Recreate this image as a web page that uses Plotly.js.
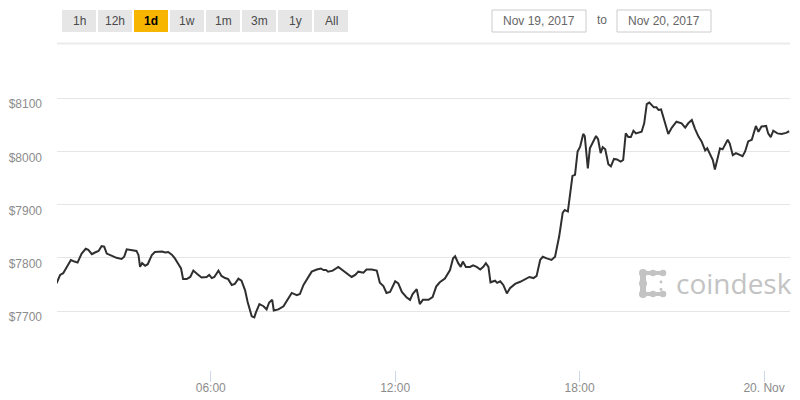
<!DOCTYPE html>
<html>
<head>
<meta charset="utf-8">
<script src="https://cdn.plot.ly/plotly-3.0.1.min.js"></script>
<style>
  html, body { margin: 0; padding: 0; background: #fff; }
  #chart { width: 800px; height: 400px; }
</style>
</head>
<body>
<div id="chart"></div>
<script>
// minutes after 2017-11-19 00:00 and BTC price (USD)
var minutes = [59, 66, 72, 79, 87, 94, 100, 108, 116, 121, 128, 134, 141, 147, 152, 157, 167, 176, 186, 191,
  196, 202, 209, 215, 219, 222, 226, 232, 237, 245, 251, 258, 265, 271, 277, 284, 290, 297, 302, 306,
  313, 320, 326, 333, 342, 352, 357, 362, 367, 375, 381, 388, 394, 401, 407, 414, 420, 427, 432, 440,
  445, 448, 455, 463, 469, 474, 480, 483, 492, 502, 509, 518, 528, 534, 541, 547, 557, 567, 575, 580,
  585, 589, 598, 609, 619, 628, 635, 642, 648, 658, 664, 674, 684, 690, 697, 703, 710, 720, 726, 733,
  742, 749, 754, 762, 768, 774, 785, 793, 800, 807, 817, 827, 833, 837, 843, 848, 852, 858, 866, 872,
  879, 886, 892, 897, 902, 906, 915, 919, 925, 931, 938, 944, 954, 964, 973, 982, 990, 996, 1003, 1008,
  1016, 1025, 1032, 1040, 1047, 1051, 1057, 1061, 1066, 1071, 1076, 1081, 1087, 1090, 1096, 1100, 1107, 1112, 1116, 1121,
  1125, 1130, 1136, 1141, 1147, 1153, 1160, 1165, 1170, 1175, 1180, 1185, 1190, 1196, 1201, 1206, 1211, 1216, 1221, 1225,
  1230, 1234, 1239, 1247, 1253, 1260, 1269, 1279, 1286, 1292, 1299, 1305, 1312, 1318, 1325, 1329, 1334, 1340, 1344, 1349,
  1354, 1359, 1364, 1369, 1373, 1379, 1385, 1393, 1398, 1403, 1409, 1416, 1424, 1429, 1435, 1444, 1448, 1453, 1458, 1466,
  1474, 1483, 1489];
var prices = [7752, 7768, 7771, 7783, 7796, 7793, 7791, 7808, 7817, 7815, 7807, 7810, 7813, 7822, 7821, 7808, 7803, 7800, 7798, 7802,
  7816, 7815, 7815, 7813, 7805, 7783, 7790, 7785, 7788, 7805, 7811, 7812, 7812, 7810, 7811, 7806, 7799, 7788, 7780, 7760,
  7760, 7764, 7776, 7770, 7763, 7764, 7768, 7762, 7764, 7776, 7766, 7762, 7760, 7749, 7751, 7761, 7757, 7739, 7717, 7690,
  7688, 7697, 7713, 7709, 7703, 7716, 7721, 7701, 7703, 7709, 7721, 7734, 7730, 7732, 7749, 7758, 7774, 7778, 7780, 7777,
  7777, 7774, 7776, 7783, 7776, 7768, 7764, 7768, 7774, 7772, 7778, 7778, 7776, 7753, 7747, 7734, 7736, 7756, 7752, 7736,
  7726, 7721, 7732, 7741, 7713, 7721, 7721, 7726, 7746, 7754, 7761, 7777, 7799, 7803, 7790, 7783, 7793, 7783, 7783, 7786,
  7783, 7778, 7783, 7790, 7783, 7754, 7757, 7753, 7756, 7749, 7733, 7743, 7751, 7755, 7760, 7764, 7762, 7766, 7796, 7802,
  7799, 7796, 7802, 7840, 7885, 7890, 7887, 7921, 7954, 7956, 8000, 8009, 8033, 8029, 7968, 8006, 8020, 8029, 8023, 7997,
  8008, 8004, 7976, 7972, 7986, 7985, 7981, 7984, 8034, 8027, 8027, 8039, 8034, 8035, 8037, 8053, 8089, 8092, 8087, 8083,
  8083, 8078, 8079, 8050, 8033, 8045, 8056, 8053, 8045, 8053, 8059, 8043, 8028, 8019, 8002, 8006, 7997, 7984, 7966, 7984,
  8006, 8004, 8012, 8022, 8015, 7993, 7997, 7993, 7991, 8000, 8019, 8022, 8048, 8037, 8047, 8048, 8034, 8027, 8039, 8034,
  8033, 8035, 8038];

var tickMinutes = [360, 720, 1080, 1440];
var tickLabels = ['06:00', '12:00', '18:00', '20. Nov'];
var priceTicks = [7700, 7800, 7900, 8000, 8100];
var rangeButtons = ['1h', '12h', '1d', '1w', '1m', '3m', '1y', 'All'];
var activeButton = '1d';
var dateFrom = 'Nov 19, 2017';
var dateTo = 'Nov 20, 2017';

function toDate(m) {
  var d = new Date(Date.UTC(2017, 10, 19) + m * 60000);
  return d.toISOString().slice(0, 19).replace('T', ' ');
}

// plot box in pixels, used to place the decorations around it
var L = 57, R = 790, T = 60, B = 370;
function px(x) { return (x - L) / (R - L); }
function py(y) { return (B - y) / (B - T); }

var shapes = [];
var annotations = [];

// range buttons
rangeButtons.forEach(function (b, i) {
  var x0 = 62 + i * 36;
  shapes.push({
    type: 'rect', xref: 'paper', yref: 'paper',
    x0: px(x0), x1: px(x0 + 34), y0: py(32), y1: py(10),
    fillcolor: b === activeButton ? '#f7b500' : '#e6e6e6',
    line: { width: 0 }
  });
  annotations.push({
    xref: 'paper', yref: 'paper', x: px(x0 + 17), y: py(21),
    xanchor: 'center', yanchor: 'middle', showarrow: false,
    text: b === activeButton ? '<b>' + b + '</b>' : b,
    font: { size: 12, color: b === activeButton ? '#000' : '#4a4a4a' }
  });
});

// date boxes
[[492, 586, dateFrom], [617, 711, dateTo]].forEach(function (d) {
  shapes.push({
    type: 'rect', xref: 'paper', yref: 'paper',
    x0: px(d[0]), x1: px(d[1]), y0: py(32), y1: py(10),
    fillcolor: '#fff', line: { width: 1, color: '#cccccc' }
  });
  annotations.push({
    xref: 'paper', yref: 'paper', x: px((d[0] + d[1]) / 2), y: py(21),
    xanchor: 'center', yanchor: 'middle', showarrow: false,
    text: d[2], font: { size: 12, color: '#666' }
  });
});
annotations.push({
  xref: 'paper', yref: 'paper', x: px(602), y: py(20),
  xanchor: 'center', yanchor: 'middle', showarrow: false,
  text: 'to', font: { size: 12, color: '#666' }
});

// divider under the controls
shapes.push({
  type: 'line', xref: 'paper', yref: 'paper',
  x0: px(57), x1: px(790), y0: py(43.5), y1: py(43.5),
  line: { width: 2, color: '#ebebeb' }
});

// coindesk logo
var logoGray = '#c3c3c3';
[[643, 273, 4], [653, 273, 3.3], [663, 273, 3.3], [643, 283.5, 4], [643, 294, 4], [653, 294, 3.3], [663, 294, 3.3],
 [661, 282, 1.4], [661, 289.5, 1.4]].forEach(function (c) {
  shapes.push({
    type: 'circle', xref: 'paper', yref: 'paper',
    x0: px(c[0] - c[2]), x1: px(c[0] + c[2]), y0: py(c[1] + c[2]), y1: py(c[1] - c[2]),
    fillcolor: logoGray, line: { width: 0 }
  });
});
shapes.push({
  type: 'rect', xref: 'paper', yref: 'paper',
  x0: px(640), x1: px(646), y0: py(294), y1: py(273),
  fillcolor: logoGray, line: { width: 0 }
});
shapes.push({
  type: 'rect', xref: 'paper', yref: 'paper',
  x0: px(643), x1: px(663), y0: py(275), y1: py(271),
  fillcolor: logoGray, line: { width: 0 }
});
shapes.push({
  type: 'rect', xref: 'paper', yref: 'paper',
  x0: px(643), x1: px(663), y0: py(296), y1: py(292),
  fillcolor: logoGray, line: { width: 0 }
});
annotations.push({
  xref: 'paper', yref: 'paper', x: px(674), y: py(283),
  xanchor: 'left', yanchor: 'middle', showarrow: false,
  text: 'coindesk', font: { family: 'Open Sans, sans-serif', size: 28, color: logoGray }
});

var trace = {
  x: minutes.map(toDate),
  y: prices,
  type: 'scatter',
  mode: 'lines',
  line: { color: '#2f2f2f', width: 2 },
  hoverinfo: 'x+y'
};

var layout = {
  width: 800, height: 400,
  margin: { l: L, r: 800 - R, t: T, b: 400 - B },
  paper_bgcolor: '#fff', plot_bgcolor: '#fff',
  showlegend: false,
  font: { family: 'Liberation Sans, Arial, sans-serif', size: 12, color: '#888' },
  xaxis: {
    type: 'date',
    range: [toDate(59.9), toDate(1490.6)],
    tickvals: tickMinutes.map(toDate),
    ticktext: tickLabels,
    ticks: 'outside', ticklen: 11, tickwidth: 1, tickcolor: '#ccd6eb',
    ticklabelstandoff: -4,
    showgrid: false, zeroline: false, showline: false,
    tickfont: { size: 12, color: '#8c8c8c' }
  },
  yaxis: {
    range: [7589.1, 8172],
    tickvals: priceTicks,
    ticktext: priceTicks.map(function (v) { return '$' + v; }),
    showgrid: true, gridcolor: '#e6e6e6', gridwidth: 1,
    zeroline: false, showline: false, ticks: '',
    ticklabelstandoff: 14, ticklabelshift: 6,
    tickfont: { size: 12, color: '#8c8c8c' }
  },
  shapes: shapes,
  annotations: annotations
};

Plotly.newPlot('chart', [trace], layout, { displayModeBar: false, staticPlot: true });
</script>
</body>
</html>
